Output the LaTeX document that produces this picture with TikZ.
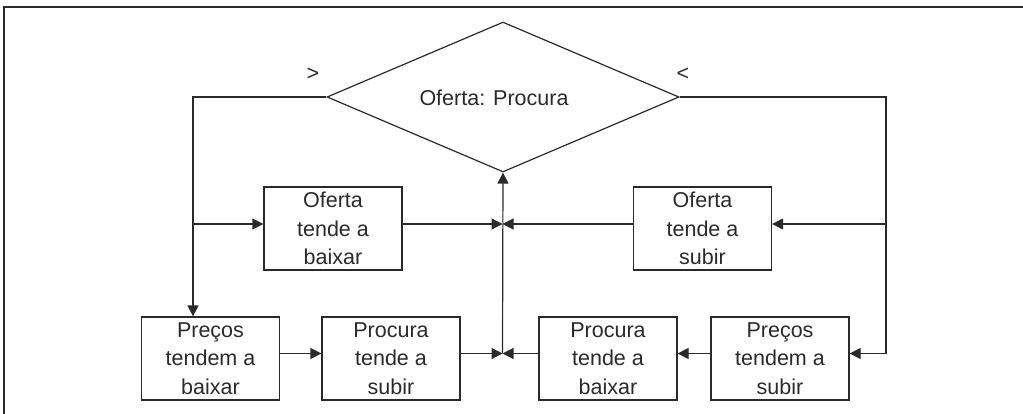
\documentclass[tikz,border=0pt]{standalone}
\usepackage{fontspec}
\setmainfont{Liberation Sans}
\usetikzlibrary{shapes.geometric,arrows.meta}
\definecolor{ink}{HTML}{2A2A2A}
\tikzset{
  box/.style={draw=ink, line width=1.2pt, minimum width=138pt, minimum height=83pt, inner sep=0pt, align=center, text=ink, font=\fontsize{21.5}{28.7}\selectfont},
  arr/.style={draw=ink, line width=1.2pt, -{Triangle[length=11pt,width=11pt]}},
  ln/.style={draw=ink, line width=1.2pt},
  lbl/.style={text=ink, inner sep=0pt, font=\fontsize{21.5}{28.7}\selectfont},
}
\begin{document}
\begin{tikzpicture}[x=1pt,y=-1pt]
\useasboundingbox (0,0) rectangle (1023,414);
\draw[draw=ink, line width=2pt] (4,414) -- (4,7) -- (1023,7);
% decision
\node[draw=ink, line width=1.2pt, shape=diamond, minimum width=352pt, minimum height=150pt, inner sep=0pt] (D) at (503,97) {};
\node[lbl] (Dt) at (494,98) {Oferta: Procura};
\node[lbl] (gt) at (313,74) {>};
\node[lbl] (lt) at (683,74) {<};
% boxes
\node[box] (ob) at (333,228.5) {Oferta\\tende a\\baixar};
\node[box] (os) at (702.5,228.5) {Oferta\\tende a\\subir};
\node[box] (pb) at (210.5,358.5) {Preços\\tendem a\\baixar};
\node[box] (ps) at (391,358.5) {Procura\\tende a\\subir};
\node[box] (pcb) at (608,358.5) {Procura\\tende a\\baixar};
\node[box] (pts) at (780,358.5) {Preços\\tendem a\\subir};
% helper coordinates
\coordinate (cL) at (193,97);
\coordinate (cR) at (886,97);
\coordinate (cM) at (502.5,0);
\coordinate (r1) at (0,224);
\coordinate (r2) at (0,353.5);
% left branch
\draw[arr] (D.west) -- (cL) -- (cL |- pb.north);
\draw[arr] (cL |- r1) -- (ob.west |- r1);
\draw[arr] (pb.east |- r2) -- (ps.west |- r2);
\draw[arr] (ob.east |- r1) -- (cM |- r1);
\draw[arr] (ps.east |- r2) -- (cM |- r2);
% right branch
\draw[arr] (D.east) -- (cR) -- (cR |- r2) -- (pts.east |- r2);
\draw[arr] (cR |- r1) -- (os.east |- r1);
\draw[arr] (pts.west |- r2) -- (pcb.east |- r2);
\draw[arr] (os.west |- r1) -- (cM |- r1);
\draw[arr] (pcb.west |- r2) -- (cM |- r2);
% back to decision
\draw[arr] (cM |- r2) -- (D.south);
\end{tikzpicture}
\end{document}
